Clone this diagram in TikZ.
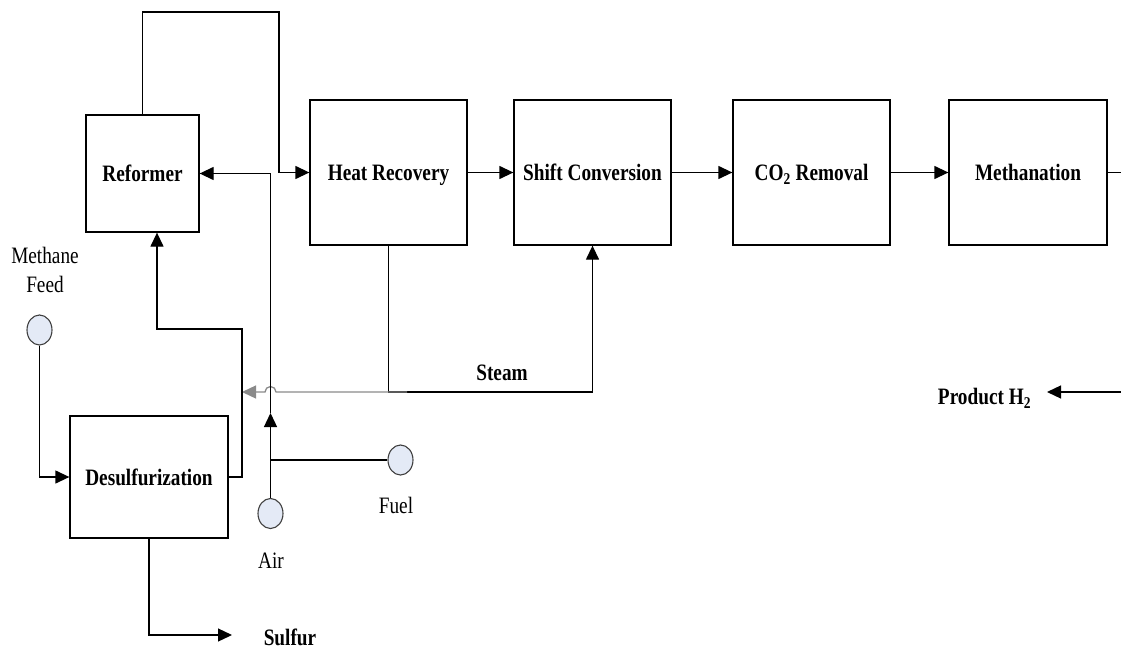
\documentclass[tikz,border=0pt]{standalone}
\usepackage{fontspec}
\setmainfont{Liberation Serif}[FakeStretch=0.82]
\usetikzlibrary{arrows.meta,shapes.geometric}
\definecolor{feedfill}{HTML}{E4EAF6}
\definecolor{greyline}{HTML}{8A8A8A}
\tikzset{
  unit/.style={draw, line width=1.3pt, inner sep=0pt, text depth=0pt,
    font=\fontsize{23.5}{29}\selectfont\bfseries},
  lbl/.style={inner sep=0pt, font=\fontsize{23.5}{29}\selectfont},
  blbl/.style={inner sep=0pt, font=\fontsize{23.5}{29}\selectfont\bfseries},
  feed/.style={ellipse, draw=black!75, fill=feedfill, line width=1.1pt,
    minimum width=25pt, minimum height=30pt, inner sep=0pt},
  pipe/.style={line width=1.3pt},
  tip/.style={-{Triangle[length=14pt,width=13pt]}},
  arr/.style={pipe, tip},
}
\begin{document}
\begin{tikzpicture}[x=1pt,y=-1pt]
\useasboundingbox (0,0) rectangle (1121,650);
% units
\node[unit, minimum width=113pt, minimum height=117pt] (ref) at (142.5,173.5) {Reformer};
\node[unit, minimum width=157pt, minimum height=145pt] (hr) at (388.5,172.5) {Heat Recovery};
\node[unit, minimum width=157pt, minimum height=145pt] (sc) at (592.5,172.5) {Shift Conversion};
\node[unit, minimum width=157pt, minimum height=145pt] (co) at (811.5,172.5) {CO\textsubscript{2} Removal};
\node[unit, minimum width=158pt, minimum height=145pt] (me) at (1028,172.5) {Methanation};
\node[unit, minimum width=158pt, minimum height=122pt] (ds) at (149,477) {Desulfurization};
% feeds
\node[feed] (mf) at (39.5,330) {};
\node[feed] (air) at (270.5,513.5) {};
\node[feed] (fuel) at (400.5,460) {};
% labels
\node[lbl, align=center] (mfl) at (45,270) {Methane\\Feed};
\node[lbl] (airl) at (271,561) {Air};
\node[lbl] (fuell) at (396,505) {Fuel};
\node[blbl] (steam) at (502,373) {Steam};
\node[blbl] (sulf) at (290,637) {Sulfur};
\node[blbl] (prod) at (984.5,398) {Product H\textsubscript{2}};
% coordinates
\coordinate (top) at (279,12);
\coordinate (sj) at (388.5,392);
\coordinate (gs) at (407,392);
\coordinate (hop) at (276,392);
\coordinate (d1) at (242,329);
\coordinate (d2) at (157,329);
\coordinate (ain) at (270.5,413);
\coordinate (fj) at (270.5,460);
\coordinate (sa) at (232,635);
\coordinate (medge) at (1121,172.5);
\coordinate (pedge) at (1121,392);
\coordinate (ptip) at (1047,392);
% main line
\draw[arr] (ref.north) |- (top) |- (hr.west);
\draw[arr] (hr.east) -- (sc.west);
\draw[arr] (sc.east) -- (co.west);
\draw[arr] (co.east) -- (me.west);
\draw[pipe] (me.east) -- (medge);
\draw[arr] (pedge) -- (ptip);
% steam
\draw[arr] (hr.south) -- (sj) -| (sc.south);
\draw[pipe, greyline, tip] (gs) -- (hop)
  arc[start angle=0, end angle=-180, radius=5.5] -- (d1 |- sj);
% desulfurization to reformer
\draw[arr] (ds.east) -| (d1) -- (d2) -- (d2 |- ref.south);
% air and fuel
\draw[arr] (air.north) -- (ain);
\draw[arr] (ain) |- (ref.east);
\draw[pipe] (fj) -- (fuel.west);
% methane feed
\draw[arr] (mf.south) |- (ds.west);
% sulfur
\draw[arr] (ds.south) |- (sa);
\end{tikzpicture}
\end{document}
